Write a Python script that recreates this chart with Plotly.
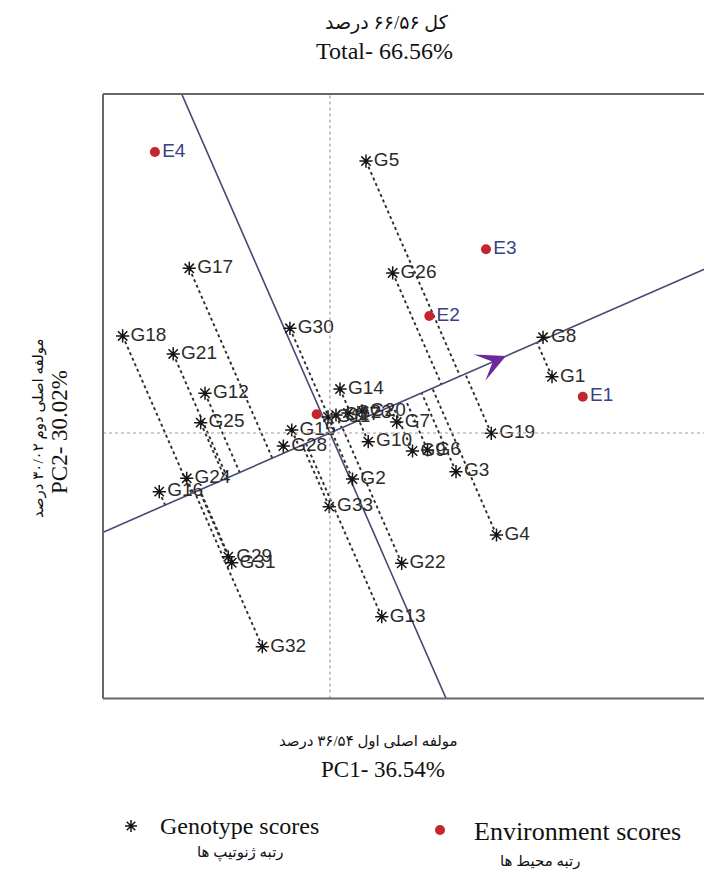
import numpy as np
import plotly.graph_objects as go

# ---------------- data ----------------
genotypes = ["G1", "G2", "G3", "G4", "G5", "G6", "G7", "G8", "G9", "G10", "G11",
             "G12", "G13", "G14", "G15", "G16", "G17", "G18", "G19", "G20", "G21",
             "G22", "G23", "G24", "G25", "G26", "G27", "G28", "G29", "G30", "G31",
             "G32", "G33"]
geno_pc1 = [1.48, 0.15, 0.84, 1.11, 0.24, 0.65, 0.445, 1.42, 0.55, 0.255, -0.013,
            -0.833, 0.345, 0.067, -0.255, -1.138, -0.938, -1.382, 1.075, 0.213, -1.045,
            0.478, 0.12, -0.955, -0.862, 0.418, 0.04, -0.311, -0.678, -0.267, -0.655,
            -0.451, -0.005]
geno_pc2 = [0.375, -0.307, -0.258, -0.68, 1.813, -0.113, 0.073, 0.638, -0.12, -0.058, 0.107,
            0.265, -1.225, 0.293, 0.02, -0.391, 1.098, 0.647, -0.002, 0.147, 0.527,
            -0.869, 0.133, -0.302, 0.069, 1.067, 0.12, -0.087, -0.825, 0.698, -0.865,
            -1.425, -0.491]

environments = ["E1", "E2", "E3", "E4"]
env_pc1 = [1.685, 0.662, 1.04, -1.167]
env_pc2 = [0.242, 0.78, 1.225, 1.873]

avg_env = [1.173, 0.513]        # average-environment coordinate (arrow tip)
center_marker = [-0.089, 0.125]  # red marker near biplot origin

x_range = [-1.513, 2.493]
y_range = [-1.77, 2.26]

title_fa = "کل ۶۶/۵۶ درصد"
title_en = "Total- 66.56%"
xlab_fa = "مولفه اصلی اول ۳۶/۵۴ درصد"
xlab_en = "PC1- 36.54%"
ylab_fa = "مولفه اصلی دوم ۳۰/۰۲ درصد"
ylab_en = "PC2- 30.02%"
leg_geno_en = "Genotype scores"
leg_geno_fa = "رتبه ژنوتیپ ها"
leg_env_en = "Environment scores"
leg_env_fa = "رتبه محیط ها"

# ---------------- derived geometry ----------------
u = np.array(avg_env) / np.linalg.norm(avg_env)
v = np.array([-u[1], u[0]])
gx = np.array(geno_pc1)
gy = np.array(geno_pc2)
tproj = gx * u[0] + gy * u[1]

proj_x, proj_y = [], []
for xi, yi, ti in zip(gx, gy, tproj):
    proj_x += [xi, ti * u[0], None]
    proj_y += [yi, ti * u[1], None]

L = 10
atc_x = [-L * u[0], L * u[0]]
atc_y = [-L * u[1], L * u[1]]
perp_x = [-L * v[0], L * v[0]]
perp_y = [-L * v[1], L * v[1]]

LINE_COL = "#454a72"
GEN_TXT = "#2b2b2b"
ENV_TXT = "#3c3f86"
RED = "#c3272b"
STAR = "#151515"
SERIF = "Liberation Serif, Times New Roman, DejaVu Sans, serif"
SANS = "Liberation Sans, Arial, sans-serif"

W, H = 704, 875
PL, PT, PB = 103, 94, 698.5

fig = go.Figure()

fig.add_trace(go.Scatter(x=proj_x, y=proj_y, mode="lines",
                         line=dict(color="#2e2e2e", width=1.9, dash="dot"),
                         hoverinfo="skip", showlegend=False))
fig.add_trace(go.Scatter(x=atc_x, y=atc_y, mode="lines",
                         line=dict(color=LINE_COL, width=1.6),
                         hoverinfo="skip", showlegend=False))
fig.add_trace(go.Scatter(x=perp_x, y=perp_y, mode="lines",
                         line=dict(color=LINE_COL, width=1.6),
                         hoverinfo="skip", showlegend=False))
fig.add_trace(go.Scatter(x=geno_pc1, y=geno_pc2, mode="markers+text",
                         text=genotypes, textposition="middle right",
                         textfont=dict(family=SANS, size=19, color=GEN_TXT),
                         marker=dict(symbol="asterisk-open", size=11, color=STAR,
                                     line=dict(color=STAR, width=1.5)),
                         showlegend=False))
fig.add_trace(go.Scatter(x=env_pc1, y=env_pc2, mode="markers+text",
                         text=environments, textposition="middle right",
                         textfont=dict(family=SANS, size=19, color=ENV_TXT),
                         marker=dict(symbol="circle", size=10, color=RED),
                         showlegend=False))
fig.add_trace(go.Scatter(x=[center_marker[0]], y=[center_marker[1]], mode="markers",
                         marker=dict(symbol="circle", size=10, color=RED),
                         showlegend=False))

# legend markers (pixel overlay axes)
fig.add_trace(go.Scatter(x=[131], y=[826], xaxis="x2", yaxis="y2", mode="markers",
                         marker=dict(symbol="asterisk-open", size=10, color=STAR,
                                     line=dict(color=STAR, width=1.5)),
                         hoverinfo="skip", showlegend=False))
fig.add_trace(go.Scatter(x=[440], y=[830], xaxis="x2", yaxis="y2", mode="markers",
                         marker=dict(symbol="circle", size=10, color=RED),
                         hoverinfo="skip", showlegend=False))

annotations = [
    dict(x=avg_env[0], y=avg_env[1], ax=avg_env[0] * 0.93, ay=avg_env[1] * 0.93,
         xref="x", yref="y", axref="x", ayref="y", text="", showarrow=True,
         arrowhead=3, arrowsize=2.4, arrowwidth=2, arrowcolor="#6a2a9c"),
    dict(x=387, y=23, text=title_fa, font=dict(family=SERIF, size=19, color="#111")),
    dict(x=384, y=51, text=title_en, font=dict(family=SERIF, size=24, color="#111")),
    dict(x=368, y=741, text=xlab_fa, font=dict(family=SERIF, size=15, color="#111")),
    dict(x=383, y=769, text=xlab_en, font=dict(family=SERIF, size=23, color="#111")),
    dict(x=38, y=428, text=ylab_fa, textangle=-90, font=dict(family=SERIF, size=15, color="#111")),
    dict(x=59, y=432, text=ylab_en, textangle=-90, font=dict(family=SERIF, size=23, color="#111")),
    dict(x=158, y=826, text=leg_geno_en, xanchor="left", font=dict(family=SERIF, size=24, color="#111")),
    dict(x=240, y=853, text=leg_geno_fa, font=dict(family=SERIF, size=15, color="#111")),
    dict(x=472, y=831, text=leg_env_en, xanchor="left", font=dict(family=SERIF, size=26, color="#111")),
    dict(x=540, y=861, text=leg_env_fa, font=dict(family=SERIF, size=15, color="#111")),
]
for a in annotations[1:]:
    a.update(xref="x2", yref="y2", showarrow=False)
    a.setdefault("xanchor", "center")
    a.setdefault("yanchor", "middle")

shapes = [
    dict(type="line", xref="x", yref="y domain", x0=0, x1=0, y0=0, y1=1,
         line=dict(color="#b89088", width=1.2, dash="dot")),
    dict(type="line", xref="x domain", yref="y", x0=0, x1=1, y0=0, y1=0,
         line=dict(color="#b89088", width=1.2, dash="dot")),
    dict(type="line", xref="x2", yref="y2", x0=PL, x1=PL, y0=PT, y1=PB,
         line=dict(color="#666", width=2)),
    dict(type="line", xref="x2", yref="y2", x0=PL, x1=W + 5, y0=PT, y1=PT,
         line=dict(color="#666", width=2)),
    dict(type="line", xref="x2", yref="y2", x0=PL, x1=W + 5, y0=PB, y1=PB,
         line=dict(color="#666", width=2)),
]

fig.update_layout(
    width=W, height=H, autosize=False,
    margin=dict(l=0, r=0, t=0, b=0),
    paper_bgcolor="white", plot_bgcolor="rgba(0,0,0,0)",
    showlegend=False,
    xaxis=dict(domain=[PL / W, 1], range=x_range, visible=False, fixedrange=True),
    yaxis=dict(domain=[1 - PB / H, 1 - PT / H], range=y_range, visible=False, fixedrange=True),
    xaxis2=dict(domain=[0, 1], range=[0, W], visible=False, anchor="y2", fixedrange=True),
    yaxis2=dict(domain=[0, 1], range=[H, 0], visible=False, anchor="x2", fixedrange=True),
    annotations=annotations,
    shapes=shapes,
)

fig.write_html("out.html", config={"displayModeBar": False},
               post_script="document.body.style.margin='0';document.body.style.overflow='hidden';")
